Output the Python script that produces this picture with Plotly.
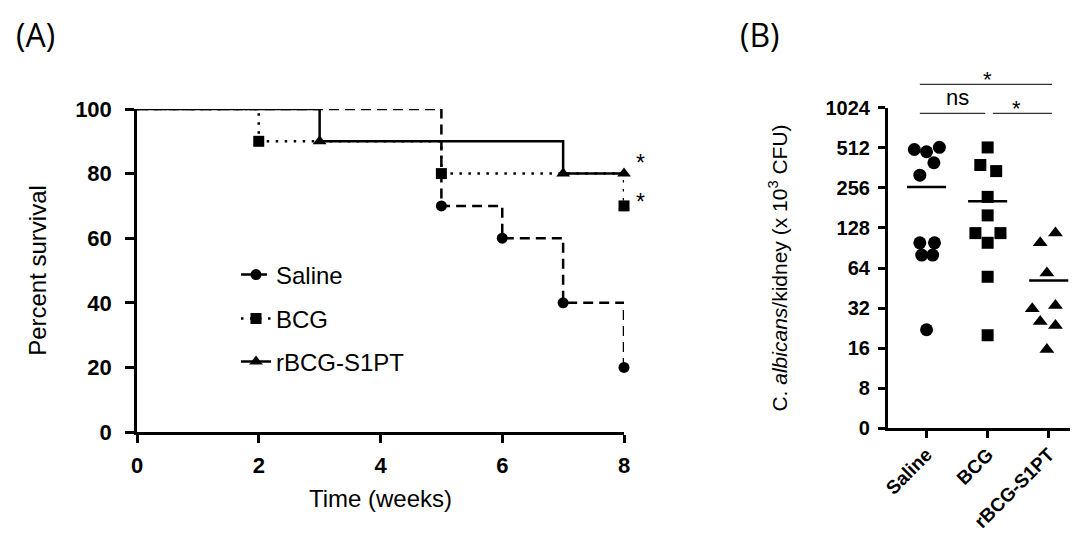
import numpy as np
import plotly.graph_objects as go

# ---------------- Panel A data (Kaplan-Meier survival) ----------------
weeks_saline = [0, 5, 6, 7, 8]
surv_saline = [100, 70, 60, 40, 20]
weeks_bcg = [0, 2, 5, 8]
surv_bcg = [100, 90, 80, 70]
weeks_rbcg = [0, 3, 7, 8]
surv_rbcg = [100, 90, 80, 80]
series_names = ["Saline", "BCG", "rBCG-S1PT"]
x_ticks_a = [0, 2, 4, 6, 8]
y_ticks_a = [0, 20, 40, 60, 80, 100]

# ---------------- Panel B data (CFU per kidney, x10^3) ----------------
groups = ["Saline", "BCG", "rBCG-S1PT"]
cfu_saline = [497, 478, 516, 395, 319, 99, 99, 80, 80, 22]
jit_saline = [-0.20, 0.0, 0.21, 0.12, -0.11, -0.11, 0.13, -0.08, 0.10, 0.0]
cfu_bcg = [515, 380, 342, 219, 159, 117, 117, 99, 55, 20]
jit_bcg = [0.0, -0.12, 0.14, 0.0, 0.0, -0.20, 0.21, 0.0, 0.0, 0.0]
cfu_rbcg = [99, 117, 58.7, 31.6, 33.5, 25.4, 23.7, 15.6]
jit_rbcg = [-0.14, 0.11, -0.03, -0.27, 0.11, -0.14, 0.11, -0.03]
group_means = [260, 203, 51.6]
y_tickvals_b = [4, 8, 16, 32, 64, 128, 256, 512, 1024]
y_ticktext_b = ["0", "8", "16", "32", "64", "128", "256", "512", "1024"]

# page body has an 8px margin, so the figure is drawn at (8, 8)
OFF = 8
W, H = 1078 - OFF, 537 - OFF
FONT = "Liberation Sans, Arial, sans-serif"
LW = 2.5


def px_x(p):
    return (p - OFF) / W


def px_y(p):
    return 1 - (p - OFF) / H


fig = go.Figure()

# ---- Panel A curves ----
curve_specs = [
    (weeks_saline, surv_saline, "10px,6px", "circle", 11),
    (weeks_bcg, surv_bcg, "2.5px,6.5px", "square", 11),
    (weeks_rbcg, surv_rbcg, "solid", "triangle-up", 12),
]
for i, (wx, sy, dash, sym, ms) in enumerate(curve_specs):
    fig.add_trace(go.Scatter(
        x=wx, y=sy, mode="lines", line=dict(color="black", width=LW, dash=dash, shape="hv"),
        xaxis="x", yaxis="y", showlegend=False, hoverinfo="skip", cliponaxis=False))
    fig.add_trace(go.Scatter(
        x=wx[1:], y=sy[1:], mode="markers",
        marker=dict(symbol=sym, size=ms, color="black"),
        xaxis="x", yaxis="y", showlegend=False, cliponaxis=False))

# legend-only traces
legend_names = ["legend", "legend2", "legend3"]
for i, (wx, sy, dash, sym, ms) in enumerate(curve_specs):
    fig.add_trace(go.Scatter(
        x=[None], y=[None], mode="lines+markers", name=series_names[i],
        line=dict(color="black", width=LW, dash=dash),
        marker=dict(symbol=sym, size=ms, color="black"),
        xaxis="x", yaxis="y", showlegend=True, legend=legend_names[i]))

# ---- Panel B scatter ----
b_specs = [
    (cfu_saline, jit_saline, "circle", 13),
    (cfu_bcg, jit_bcg, "square", 12),
    (cfu_rbcg, jit_rbcg, "triangle-up", 13),
]
for gi, (vals, jit, sym, ms) in enumerate(b_specs):
    fig.add_trace(go.Scatter(
        x=gi + np.array(jit), y=vals, mode="markers",
        marker=dict(symbol=sym, size=ms, color="black"),
        xaxis="x2", yaxis="y2", showlegend=False, cliponaxis=False))
    fig.add_trace(go.Scatter(
        x=[gi - 0.32, gi + 0.32], y=[group_means[gi]] * 2, mode="lines",
        line=dict(color="black", width=2.5),
        xaxis="x2", yaxis="y2", showlegend=False, hoverinfo="skip"))

axis_common = dict(
    showline=True, linecolor="black", linewidth=LW, ticks="outside",
    tickwidth=LW, tickcolor="black", showgrid=False, zeroline=False,
    automargin=False,
)
tf_a = dict(family=FONT, size=22, color="black", weight="bold")
tf_b = dict(family=FONT, size=20, color="black", weight="bold")
tf_bx = dict(family=FONT, size=19, color="black", weight="bold")

leg_common = dict(xanchor="left", yanchor="middle",
                  font=dict(family=FONT, size=24), bgcolor="rgba(0,0,0,0)")

fig.update_layout(
    width=W, height=H,
    margin=dict(l=0, r=0, t=0, b=0),
    paper_bgcolor="white", plot_bgcolor="white",
    font=dict(family=FONT, color="black"),
    xaxis=dict(
        domain=[px_x(137), px_x(624)], range=[0, 8], tickvals=x_ticks_a,
        ticklen=8, tickfont=tf_a, ticklabelstandoff=4,
        title=dict(text="Time (weeks)", font=dict(family=FONT, size=24), standoff=14),
        anchor="y", **axis_common),
    yaxis=dict(
        domain=[px_y(432), px_y(109)], range=[0, 100], tickvals=y_ticks_a,
        ticklen=9, tickfont=tf_a, ticklabelstandoff=9,
        title=dict(text="Percent survival", font=dict(family=FONT, size=24), standoff=22),
        anchor="x", **axis_common),
    xaxis2=dict(
        domain=[px_x(887.7), px_x(1075)], range=[-0.636, 2.43], tickvals=[0, 1, 2],
        ticktext=groups, tickangle=-45, anchor="y2", ticklen=7, tickfont=tf_bx,
        ticklabelstandoff=-2, **axis_common),
    yaxis2=dict(
        domain=[px_y(428.3), px_y(107.7)], type="log",
        range=[np.log10(4), np.log10(1024)], tickvals=y_tickvals_b, ticktext=y_ticktext_b,
        ticklen=7, tickfont=tf_b, ticklabelstandoff=4,
        title=dict(text="C. <i>albicans</i>/kidney (x 10<sup>3</sup> CFU)",
                   font=dict(family=FONT, size=21), standoff=33),
        anchor="x2", **axis_common),
    legend=dict(x=px_x(236), y=px_y(275), **leg_common),
    legend2=dict(x=px_x(236), y=px_y(319), **leg_common),
    legend3=dict(x=px_x(236), y=px_y(362), **leg_common),
)

# panel labels
fig.add_annotation(text="(A)", x=px_x(35), y=px_y(34), xref="paper", yref="paper",
                   xanchor="center", yanchor="middle", showarrow=False,
                   font=dict(family="Open Sans, sans-serif", size=32, color="black"))
fig.add_annotation(text="(B)", x=px_x(760), y=px_y(34), xref="paper", yref="paper",
                   xanchor="center", yanchor="middle", showarrow=False,
                   font=dict(family="Open Sans, sans-serif", size=32, color="black"))

# significance stars, panel A
for yp in [163, 202]:
    fig.add_annotation(text="*", x=px_x(640), y=px_y(yp), xref="paper", yref="paper",
                       xanchor="center", yanchor="middle",
                       showarrow=False, font=dict(family=FONT, size=23, color="black"))

# significance bars, panel B
bars = [(-0.11, 2.055, 84.3), (-0.11, 0.96, 113.3), (1.085, 2.055, 113.3)]
for x0, x1, yp in bars:
    fig.add_shape(type="line", xref="x2", yref="paper", x0=x0, x1=x1,
                  y0=px_y(yp), y1=px_y(yp), line=dict(color="black", width=1))
fig.add_annotation(text="*", x=1.0, y=px_y(80), xref="x2", yref="paper", showarrow=False,
                   xanchor="center", yanchor="middle",
                   font=dict(family=FONT, size=22, color="black"))
fig.add_annotation(text="ns", x=0.5, y=px_y(98), xref="x2", yref="paper", showarrow=False,
                   xanchor="center", yanchor="middle",
                   font=dict(family=FONT, size=22, color="black"))
fig.add_annotation(text="*", x=1.48, y=px_y(108), xref="x2", yref="paper", showarrow=False,
                   xanchor="center", yanchor="middle",
                   font=dict(family=FONT, size=22, color="black"))

fig.write_html("out.html")
